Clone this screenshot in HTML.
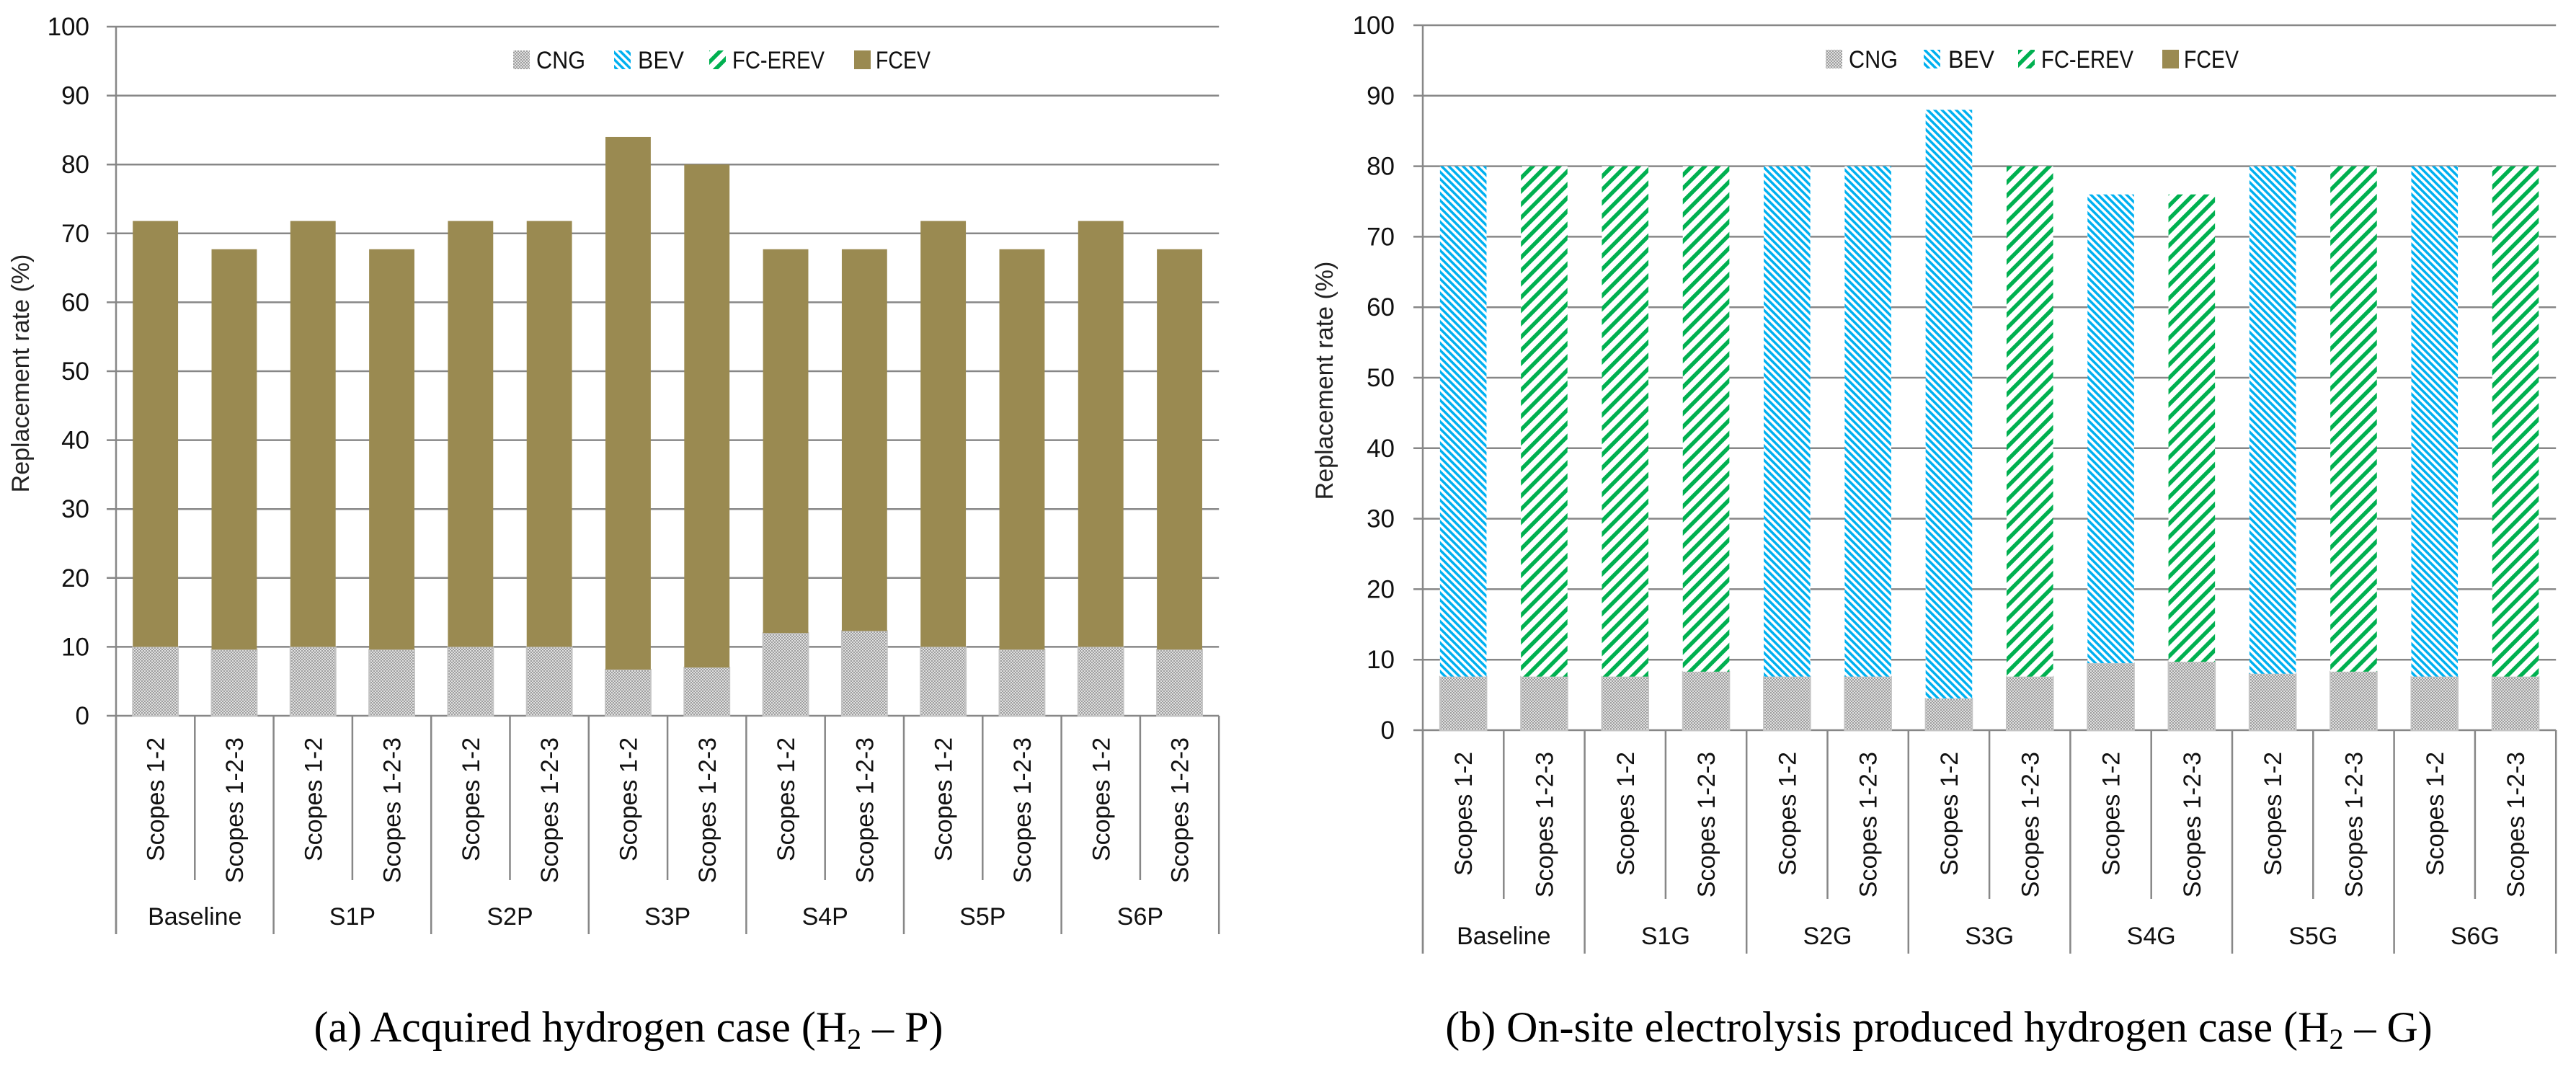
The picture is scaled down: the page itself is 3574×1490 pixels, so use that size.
<!DOCTYPE html>
<html><head><meta charset="utf-8"><style>
html,body{margin:0;padding:0;background:#fff;}
svg{display:block;font-family:"Liberation Sans",sans-serif;}
</style></head><body>
<svg id="root" width="3574" height="1490" viewBox="0 0 3574 1490" xmlns="http://www.w3.org/2000/svg">
<defs>
<pattern id="pCNG" width="4" height="4" patternUnits="userSpaceOnUse">
<rect width="4" height="4" fill="#e0e0e0"/><rect width="2" height="2" fill="#9e9e9e"/><rect x="2" y="2" width="2" height="2" fill="#9e9e9e"/>
</pattern>
<pattern id="pBEV" width="7" height="7" patternUnits="userSpaceOnUse" patternTransform="rotate(45)">
<rect width="7" height="7" fill="#fff"/><rect width="7" height="3.5" fill="#00b0f0"/>
</pattern>
<pattern id="pFC" width="13" height="13" patternUnits="userSpaceOnUse" patternTransform="rotate(-45)">
<rect width="13" height="13" fill="#fff"/><rect width="13" height="5.5" fill="#00b050"/>
</pattern>
</defs>
<g id="chartA"></g>
<g id="chartB"></g>
<text x="872" y="1445" text-anchor="middle" font-family="Liberation Serif,serif" font-size="60">(a) Acquired hydrogen case (H<tspan font-size="40" dy="10">2</tspan><tspan dy="-10"> – P)</tspan></text>
<text x="2690" y="1445" text-anchor="middle" font-family="Liberation Serif,serif" font-size="60">(b) On-site electrolysis produced hydrogen case (H<tspan font-size="40" dy="10">2</tspan><tspan dy="-10"> – G)</tspan></text>
</svg>
<script>
const subLabels = ["Scopes 1-2","Scopes 1-2-3"];
const groupsA = ["Baseline","S1P","S2P","S3P","S4P","S5P","S6P"];
const groupsB = ["Baseline","S1G","S2G","S3G","S4G","S5G","S6G"];
const yTicks = [0,10,20,30,40,50,60,70,80,90,100];
// Chart A
const cngA  = [10,9.6,10,9.6,10,10,6.7,7,12,12.3,10,9.6,10,9.6];
const fcevA = [61.8,58.1,61.8,58.1,61.8,61.8,77.3,73,55.7,55.4,61.8,58.1,61.8,58.1];
const bevA  = [0,0,0,0,0,0,0,0,0,0,0,0,0,0];
const fcerevA = [0,0,0,0,0,0,0,0,0,0,0,0,0,0];
// Chart B
const cngB  = [7.6,7.6,7.6,8.3,7.6,7.6,4.5,7.6,9.5,9.7,8,8.3,7.6,7.6];
const bevB  = [72.4,0,0,0,72.4,72.4,83.5,0,66.5,0,72,0,72.4,0];
const fcerevB = [0,72.4,72.4,71.7,0,0,0,72.4,0,66.3,0,71.7,0,72.4];
const fcevB = [0,0,0,0,0,0,0,0,0,0,0,0,0,0];

const NS="http://www.w3.org/2000/svg";
function mk(parent,tag,attrs,text){const e=document.createElementNS(NS,tag);for(const k in attrs)e.setAttribute(k,attrs[k]);if(text!==undefined)e.textContent=text;parent.appendChild(e);return e;}

function draw(g,cfg){
  const {x0,catW,y0,y100,tickX,labelX,innerBot,outerBot,groupY,groups,series,legendItems,titleX,titleY}=cfg;
  const yS=v=>y0-(y0-y100)*v/100;
  const right=x0+catW*14;
  yTicks.forEach(t=>{
    const l=mk(g,'line',{x1:tickX,x2:right,y1:yS(t),y2:yS(t),stroke:'#878787','stroke-width':2.5});
    
    
    const tx=mk(g,'text',{x:labelX,y:yS(t)+12,'text-anchor':'end','font-size':35,fill:'#111'},String(t));
    
    
  });
  const ax=mk(g,'line',{x1:x0,x2:x0,y1:y100,y2:outerBot,stroke:'#878787','stroke-width':2.5});
  
  
  for(let i=0;i<=14;i++){
    const bot=(i%2===0)?outerBot:innerBot;
    const l=mk(g,'line',{x1:x0+i*catW,x2:x0+i*catW,y1:y0,y2:bot,stroke:'#878787','stroke-width':2.5});
    
    
  }
  const bw=catW*0.575;
  for(let i=0;i<14;i++){
    const cx=x0+catW*(i+0.5);
    let acc=0;
    series.forEach(s=>{
      const v=s.vals[i]; if(v<=0)return;
      const r=mk(g,'rect',{x:cx-bw/2,y:yS(acc+v),width:bw,height:yS(acc)-yS(acc+v),fill:s.fill});
      if(s.stroke){r.setAttribute('stroke',s.stroke);r.setAttribute('stroke-width',2);}
      
      
      acc+=v;
    });
    const t=mk(g,'text',{transform:`translate(${cx+12},${y0+30}) rotate(-90)`,'text-anchor':'end','font-size':34,fill:'#111'},subLabels[i%2]);
    
    
  }
  groups.forEach((gn,k)=>{
    const t=mk(g,'text',{x:x0+catW*(2*k+1),y:groupY,'text-anchor':'middle','font-size':34,fill:'#111'},gn);
    
    
  });
  const yt=mk(g,'text',{transform:`translate(${titleX},${titleY}) rotate(-90)`,'text-anchor':'middle','font-size':34,fill:'#222'},'Replacement rate (%)');
  
  
  legendItems.forEach(it=>{
    const r=mk(g,'rect',{x:it.bx,y:cfg.legY-13,width:23,height:26,fill:it.fill});
    
    
    const t=mk(g,'text',{x:it.tx,y:cfg.legY+12,'font-size':34,fill:'#111',textLength:it.tw,lengthAdjust:'spacingAndGlyphs'},it.label);
    
    
  });
}
const legA=[{label:'CNG',fill:'url(#pCNG)',bx:712,tx:744,tw:68},{label:'BEV',fill:'url(#pBEV)',bx:852,tx:885,tw:64},{label:'FC-EREV',fill:'url(#pFC)',bx:984,tx:1016,tw:128},{label:'FCEV',fill:'#9a8a51',bx:1185,tx:1215,tw:76}];
const legB=[{label:'CNG',fill:'url(#pCNG)',bx:2533,tx:2565,tw:68},{label:'BEV',fill:'url(#pBEV)',bx:2669,tx:2703,tw:64},{label:'FC-EREV',fill:'url(#pFC)',bx:2800,tx:2832,tw:128},{label:'FCEV',fill:'#9a8a51',bx:3000,tx:3030,tw:76}];
function seriesOf(c,b,f,v){return [{name:'cng',vals:c,fill:'url(#pCNG)',stroke:'#c4c4c4'},{name:'bev',vals:b,fill:'url(#pBEV)'},{name:'fc-erev',vals:f,fill:'url(#pFC)'},{name:'fcev',vals:v,fill:'#9a8a51'}];}
draw(document.getElementById('chartA'),{x0:161,catW:109.3,y0:993,y100:37,tickX:148,labelX:124,innerBot:1221,outerBot:1296,groupY:1283,groups:groupsA,series:seriesOf(cngA,bevA,fcerevA,fcevA),legendItems:legA,legY:83,titleX:40,titleY:518});
draw(document.getElementById('chartB'),{x0:1974,catW:112.3,y0:1013,y100:35,tickX:1961,labelX:1935,innerBot:1247,outerBot:1323,groupY:1310,groups:groupsB,series:seriesOf(cngB,bevB,fcerevB,fcevB),legendItems:legB,legY:82,titleX:1849,titleY:528});
</script>
</body></html>
